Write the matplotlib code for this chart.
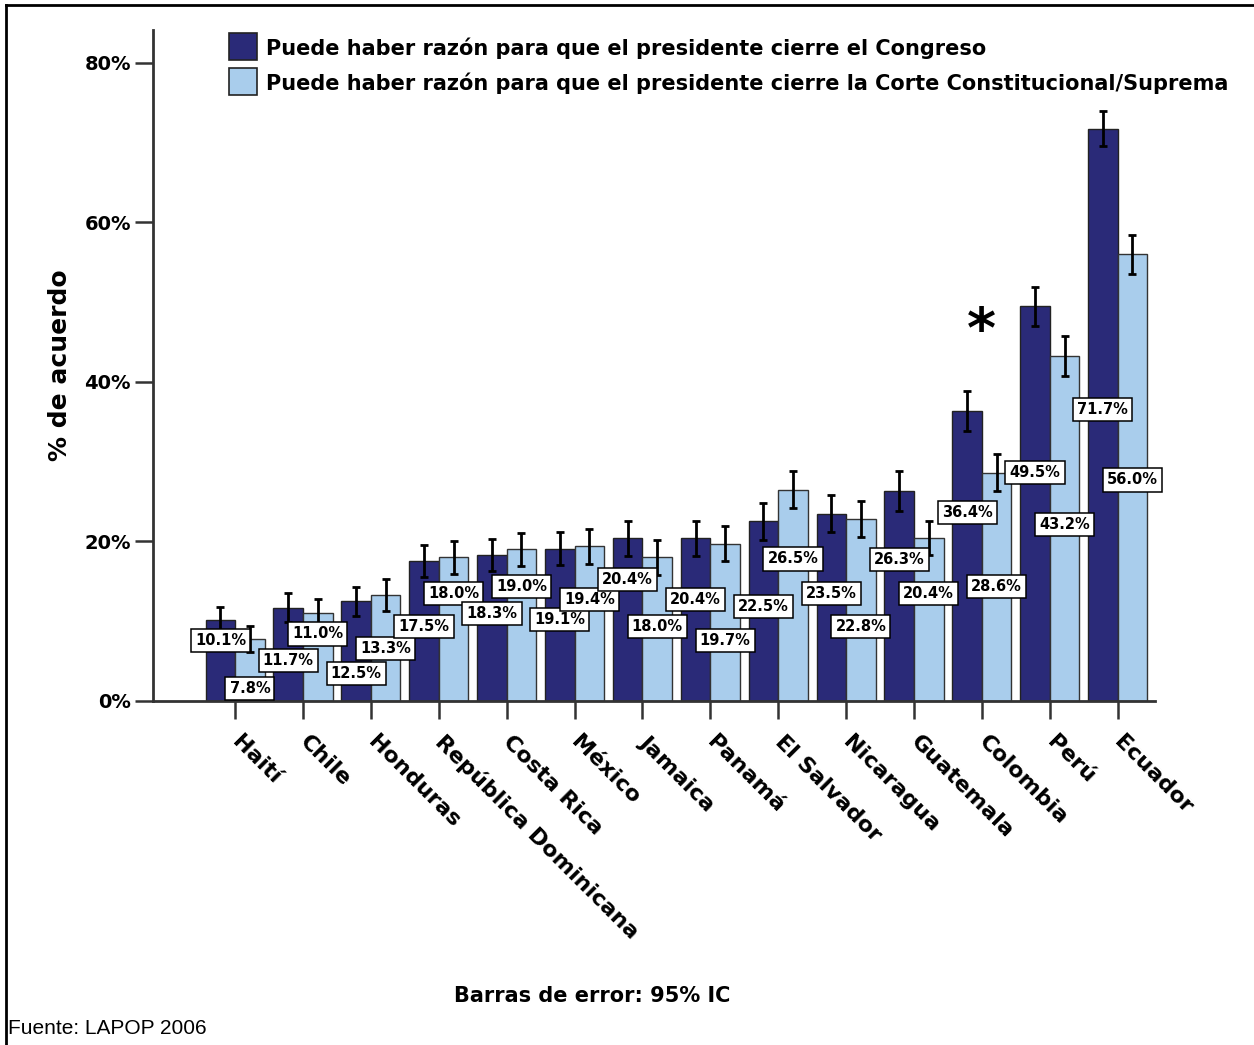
import matplotlib
matplotlib.use("Agg")
import matplotlib.pyplot as plt
import numpy as np
from matplotlib.patches import Rectangle
from matplotlib.lines import Line2D

# Data (LAPOP 2006)
countries = ["Haití", "Chile", "Honduras", "República Dominicana", "Costa Rica",
             "México", "Jamaica", "Panamá", "El Salvador", "Nicaragua",
             "Guatemala", "Colombia", "Perú", "Ecuador"]
congreso = [10.1, 11.7, 12.5, 17.5, 18.3, 19.1, 20.4, 20.4, 22.5, 23.5, 26.3, 36.4, 49.5, 71.7]
corte = [7.8, 11.0, 13.3, 18.0, 19.0, 19.4, 18.0, 19.7, 26.5, 22.8, 20.4, 28.6, 43.2, 56.0]
# half-width of the 95% confidence interval
ci_congreso = [1.7, 1.8, 1.8, 2.0, 2.0, 2.1, 2.2, 2.2, 2.3, 2.3, 2.5, 2.5, 2.45, 2.2]
ci_corte = [1.6, 1.8, 2.0, 2.1, 2.1, 2.2, 2.2, 2.2, 2.3, 2.3, 2.1, 2.3, 2.5, 2.45]
series_names = ["Puede haber razón para que el presidente cierre el Congreso",
                "Puede haber razón para que el presidente cierre la Corte Constitucional/Suprema"]
yticks = [0, 20, 40, 60, 80]

# where SPSS dropped the value labels (in % units), layout only
label_y_congreso = [7.6, 5.1, 3.4, 9.3, 11.0, 10.2, 15.2, 12.7, 11.8, 13.5, 17.7, 23.6, 28.6, 36.5]
label_y_corte = [1.6, 8.4, 6.6, 13.5, 14.3, 12.7, 9.3, 7.6, 17.8, 9.3, 13.5, 14.3, 22.1, 27.7]

DARK = "#2a2a78"
LIGHT = "#a9cdec"
W, H = 1254, 1045


def fx(px):
    return px / W


def fy(py):
    return 1 - py / H


fig = plt.figure(figsize=(W / 100, H / 100), dpi=100)
ax = fig.add_axes([fx(153), fy(701), fx(1155) - fx(153), fy(30) - fy(701)])

x = np.arange(len(countries))
bw = 0.435
ax.bar(x - bw / 2, congreso, bw, color=DARK, edgecolor="#222222", linewidth=1, zorder=2)
ax.bar(x + bw / 2, corte, bw, color=LIGHT, edgecolor="#333333", linewidth=1, zorder=2)
ax.errorbar(x - bw / 2, congreso, yerr=ci_congreso, fmt="none", ecolor="black",
            elinewidth=2, capsize=3, capthick=2, zorder=3)
ax.errorbar(x + bw / 2, corte, yerr=ci_corte, fmt="none", ecolor="black",
            elinewidth=2, capsize=3, capthick=2, zorder=3)

box = dict(boxstyle="square,pad=0.28", facecolor="white", edgecolor="black", linewidth=1.1)
for i in range(len(countries)):
    ax.text(x[i] - bw / 2, label_y_congreso[i], f"{congreso[i]:.1f}%", ha="center", va="center",
            fontsize=10.5, fontweight="bold", bbox=box, zorder=4)
    ax.text(x[i] + bw / 2, label_y_corte[i], f"{corte[i]:.1f}%", ha="center", va="center",
            fontsize=10.5, fontweight="bold", bbox=box, zorder=4)

ax.text(11, 46.3, "*", ha="center", va="center", fontsize=40, fontweight="bold")

ax.set_xlim(-1.21, 13.55)
ax.set_ylim(0, 84.1)
ax.set_yticks(yticks)
ax.set_yticklabels([f"{v}%" for v in yticks], fontsize=14, fontweight="bold")
ax.set_xticks(x)
ax.set_xticklabels(countries, rotation=-45, ha="left", va="center", rotation_mode="anchor",
                   fontsize=16, fontweight="bold")
ax.tick_params(axis="both", length=13, width=1.8, color="#333333")
ax.tick_params(axis="y", pad=3)
ax.tick_params(axis="x", pad=14)
for s in ["top", "right"]:
    ax.spines[s].set_visible(False)
for s in ["left", "bottom"]:
    ax.spines[s].set_linewidth(2)
    ax.spines[s].set_color("#333333")
ax.set_ylabel("% de acuerdo", fontsize=18, fontweight="bold")
ax.yaxis.set_label_coords(-0.081, 0.5)

# legend drawn by hand to match the SPSS layout
for k, c in enumerate([DARK, LIGHT]):
    top = 33 + k * 35
    fig.add_artist(Rectangle((fx(229), fy(top + 27)), fx(28), 27 / H, facecolor=c,
                             edgecolor="#222222", linewidth=1.2))
    fig.text(fx(266), fy(top + 15), series_names[k], fontsize=15, fontweight="bold", va="center")

fig.text(fx(592), fy(996), "Barras de error: 95% IC", fontsize=15, fontweight="bold",
         ha="center", va="center")
fig.text(fx(8), fy(1028), "Fuente: LAPOP 2006", fontsize=15, va="center",
         family=["Liberation Sans", "DejaVu Sans"])

# outer frame (top and left edges visible in the reference)
fig.add_artist(Line2D([fx(6), 1], [fy(5), fy(5)], color="black", linewidth=2))
fig.add_artist(Line2D([fx(6), fx(6)], [fy(5), 0], color="black", linewidth=2))

fig.savefig("out.png", dpi=100)
